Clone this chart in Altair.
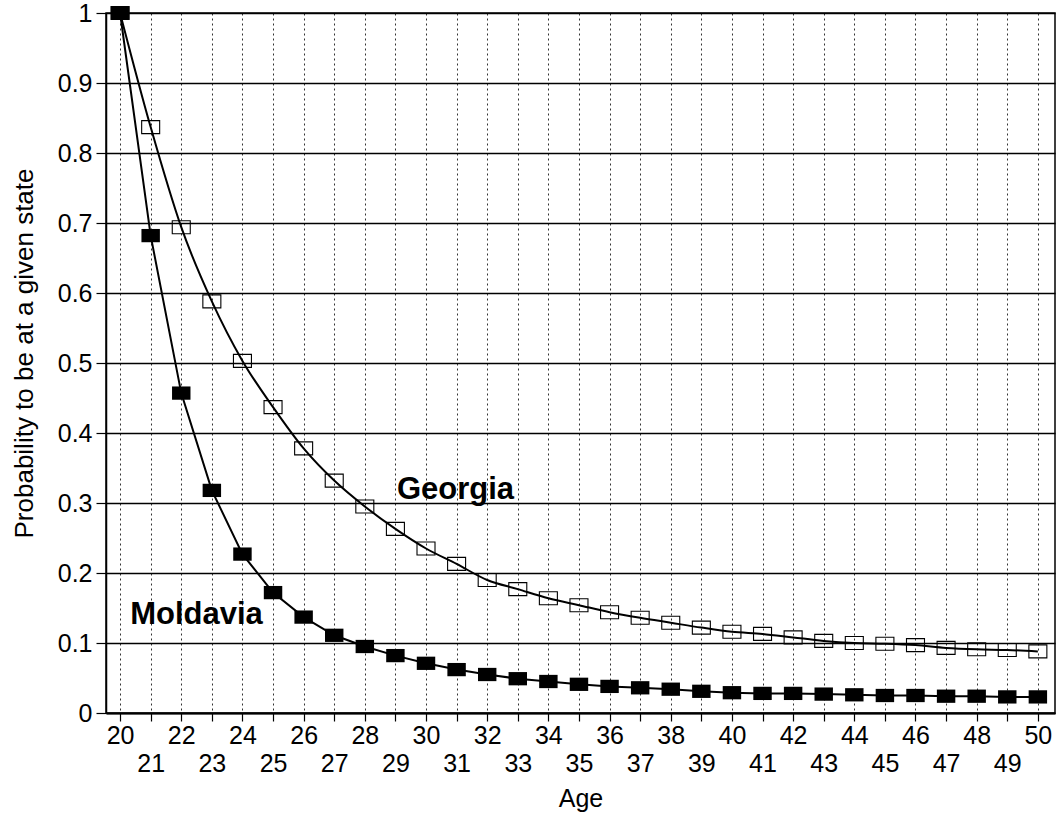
import altair as alt
import pandas as pd

# Probability of remaining in the initial state, by age
ages = list(range(20, 51))
moldavia = [1.0, 0.682, 0.457, 0.318, 0.227, 0.172, 0.137, 0.111, 0.095, 0.082,
            0.071, 0.062, 0.055, 0.049, 0.045, 0.041, 0.038, 0.036, 0.034, 0.031,
            0.029, 0.028, 0.028, 0.027, 0.026, 0.025, 0.025, 0.024, 0.024, 0.023,
            0.023]
georgia = [1.0, 0.837, 0.694, 0.588, 0.503, 0.437, 0.378, 0.332, 0.295, 0.263,
           0.235, 0.213, 0.190, 0.177, 0.164, 0.154, 0.144, 0.136, 0.129, 0.122,
           0.116, 0.113, 0.108, 0.103, 0.100, 0.099, 0.097, 0.093, 0.091, 0.090,
           0.088]

# In-plot series names and where they sit (data coordinates)
label_text = ["Moldavia", "Georgia"]
label_age = [20.33, 29.05]
label_prob = [0.127, 0.306]

y_ticks = [0, 0.1, 0.2, 0.3, 0.4, 0.5, 0.6, 0.7, 0.8, 0.9, 1]

FONT = "Liberation Sans"

mold_df = pd.DataFrame({"age": ages, "prob": moldavia})
geo_df = pd.DataFrame({"age": ages, "prob": georgia})
lab_df = pd.DataFrame({"age": label_age, "prob": label_prob, "name": label_text})

x_enc = alt.X(
    "age:Q",
    scale=alt.Scale(domain=[19.54, 50.56], nice=False, zero=False),
    axis=alt.Axis(
        values=ages,
        labelExpr="datum.value % 2 ? ['', datum.label] : datum.label",
        labelLineHeight=28,
        labelOverlap=False,
        labelFontSize=25,
        labelPadding=2,
        labelColor="black",
        tickSize=8,
        tickColor="black",
        tickWidth=1.2,
        domainColor="black",
        domainWidth=2,
        grid=True,
        gridColor="black",
        gridDash=[2, 3],
        gridWidth=1,
        gridOpacity=0.8,
        title="Age",
        titleFontSize=25,
        titleFontWeight="normal",
        titleColor="black",
        titleY=93,
        titleBaseline="alphabetic",
    ),
)

y_enc = alt.Y(
    "prob:Q",
    scale=alt.Scale(domain=[0, 1], nice=False),
    axis=alt.Axis(
        values=y_ticks,
        format="~g",
        labelFontSize=25,
        labelPadding=4,
        labelColor="black",
        tickSize=10,
        tickColor="black",
        tickWidth=1.2,
        domainColor="black",
        domainWidth=1.5,
        grid=True,
        gridColor="black",
        gridWidth=1.4,
        title="Probability to be at a given state",
        titleFontSize=26,
        titleFontWeight="normal",
        titleColor="black",
        titleX=-82,
        titleY=340,
        titleBaseline="middle",
    ),
)

rect_shape = "M-1,-0.72H1V0.72H-1Z"

geo_line = alt.Chart(geo_df).mark_line(
    color="black", strokeWidth=2, interpolate="monotone"
).encode(x=x_enc, y=y_enc)

mold_line = alt.Chart(mold_df).mark_line(
    color="black", strokeWidth=2
).encode(x=x_enc, y=y_enc)

geo_pts = alt.Chart(geo_df).mark_point(
    shape=rect_shape, size=324, filled=False, stroke="black",
    strokeWidth=1.1, opacity=1
).encode(x=x_enc, y=y_enc)

mold_pts = alt.Chart(mold_df).mark_point(
    shape=rect_shape, size=340, filled=True, color="black", opacity=1
).encode(x=x_enc, y=y_enc)

names = alt.Chart(lab_df).mark_text(
    font=FONT, fontSize=31, fontWeight="bold", align="left",
    baseline="alphabetic", color="black"
).encode(x=x_enc, y=y_enc, text="name:N")

chart = (
    alt.layer(geo_line, mold_line, geo_pts, mold_pts, names)
    .properties(
        width=949,
        height=700,
        autosize=alt.AutoSizeParams(type="none"),
        padding={"left": 106, "top": 13, "right": 2, "bottom": 100},
        background="white",
    )
    .configure(font=FONT)
    .configure_view(stroke="black", strokeWidth=1.5)
)

chart.save("out.html", embed_options={"renderer": "svg", "actions": False})
